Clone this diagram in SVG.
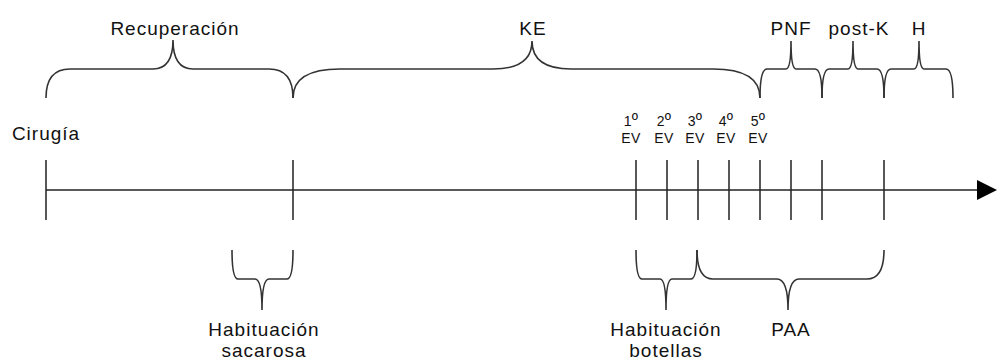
<svg xmlns="http://www.w3.org/2000/svg" width="997" height="363" viewBox="0 0 997 363">
  <style>
    .ln { fill: none; stroke: #222; stroke-width: 1.5; }
    .br { fill: none; stroke: #333; stroke-width: 1.6; }
    .t { font-family: "Liberation Sans", Arial, sans-serif; font-size: 19px; fill: #111; letter-spacing: 1px; text-anchor: middle; }
    .s { font-family: "Liberation Sans", Arial, sans-serif; font-size: 14px; fill: #111; letter-spacing: 0.3px; text-anchor: middle; }
    .o { font-size: 17px; }
  </style>
  <rect width="997" height="363" fill="#fff"/>

  <!-- timeline axis with ticks -->
  <g id="connectors">
    <line class="ln" x1="46" y1="190" x2="980" y2="190"/>
    <polygon points="977,180 997,190 977,200" fill="#000"/>
    <path class="ln" d="M46,160V220 M293,160V220 M636,160V220 M667,160V220 M698,160V220 M729,160V220 M760,160V220 M791,160V220 M822,160V220 M884,160V220"/>
  </g>

  <!-- upper braces -->
  <g id="recuperacion">
    <path class="br" d="M46,98 Q46,69 70,69 L153,69 Q173,69 173,40 Q173,69 193,69 L269,69 Q293,69 293,98"/>
    <text class="t" x="175" y="35">Recuperación</text>
  </g>
  <g id="ke">
    <path class="br" d="M293,98 Q293,69 340,69 L493,69 Q532,69 532,41 Q532,69 571,69 L713,69 Q760,69 760,98"/>
    <text class="t" x="533" y="35">KE</text>
  </g>
  <g id="pnf">
    <path class="br" d="M760,98 Q760,69 767,69 L786,69 Q791,69 791,41 Q791,69 796,69 L815,69 Q822,69 822,98"/>
    <text class="t" x="791" y="35">PNF</text>
  </g>
  <g id="postk">
    <path class="br" d="M822,98 Q822,69 829,69 L848,69 Q853,69 853,41 Q853,69 858,69 L877,69 Q884,69 884,98"/>
    <text class="t" x="859" y="35">post-K</text>
  </g>
  <g id="h">
    <path class="br" d="M884,98 Q884,69 891,69 L914,69 Q919,69 919,41 Q919,69 924,69 L946,69 Q953,69 953,98"/>
    <text class="t" x="919" y="35">H</text>
  </g>

  <!-- event labels -->
  <g id="cirugia">
    <text class="t" x="46" y="140">Cirugía</text>
  </g>
  <g id="ev1"><text class="s" x="631" y="126">1<tspan class="o">º</tspan></text><text class="s" x="631" y="143">EV</text></g>
  <g id="ev2"><text class="s" x="664" y="126">2<tspan class="o">º</tspan></text><text class="s" x="664" y="143">EV</text></g>
  <g id="ev3"><text class="s" x="695" y="126">3<tspan class="o">º</tspan></text><text class="s" x="695" y="143">EV</text></g>
  <g id="ev4"><text class="s" x="726" y="126">4<tspan class="o">º</tspan></text><text class="s" x="726" y="143">EV</text></g>
  <g id="ev5"><text class="s" x="758" y="126">5<tspan class="o">º</tspan></text><text class="s" x="758" y="143">EV</text></g>

  <!-- lower braces -->
  <g id="habituacion-sacarosa">
    <path class="br" d="M232,250 Q232,279 238,279 L255,279 Q262,279 262,310 Q262,279 269,279 L287,279 Q293,279 293,250"/>
    <text class="t" x="264" y="336">Habituación</text>
    <text class="t" x="264" y="357">sacarosa</text>
  </g>
  <g id="habituacion-botellas">
    <path class="br" d="M636,250 Q636,279 642,279 L660,279 Q666,279 666,310 Q666,279 672,279 L691,279 Q697,279 697,250"/>
    <text class="t" x="666" y="336">Habituación</text>
    <text class="t" x="666" y="357">botellas</text>
  </g>
  <g id="paa">
    <path class="br" d="M697,250 Q697,279 713,279 L777,279 Q788,279 788,310 Q788,279 799,279 L867,279 Q884,279 884,250"/>
    <text class="t" x="791" y="336">PAA</text>
  </g>
</svg>
